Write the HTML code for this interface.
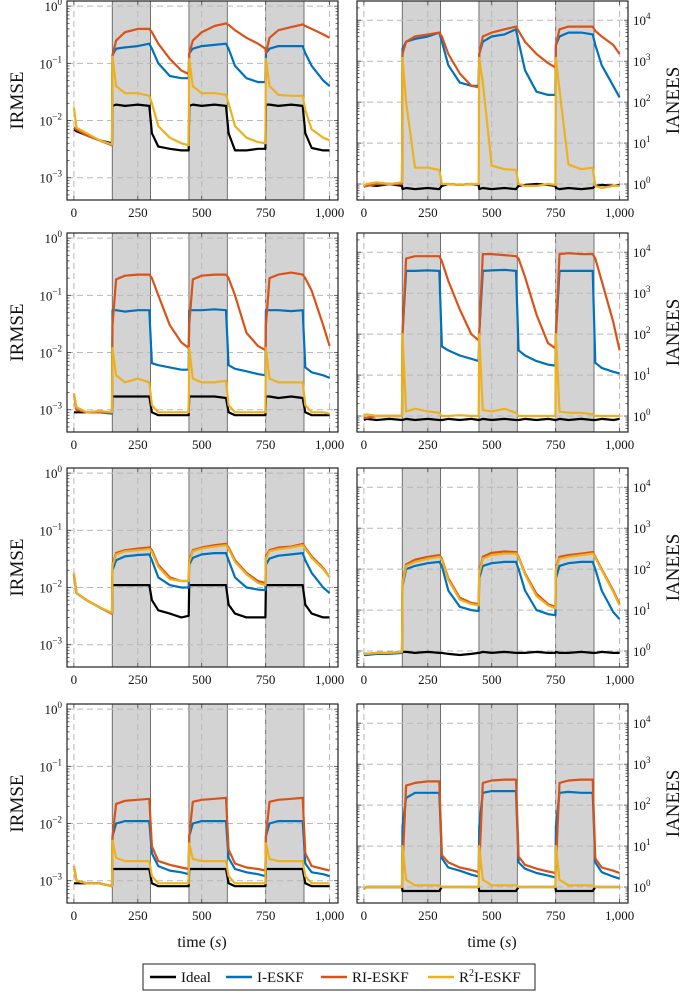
<!DOCTYPE html>
<html><head><meta charset="utf-8">
<style>
html,body{margin:0;padding:0;background:#fff;}
svg{display:block;font-family:"Liberation Serif",serif;}
</style></head>
<body>
<svg id="chart" width="685" height="995" viewBox="0 0 685 995" xmlns="http://www.w3.org/2000/svg"></svg>
<script>
// time grid
const T=[0,10,50,100,149,151,165,200,250,295,305,330,375,420,449,451,465,500,550,595,605,630,675,720,749,751,765,800,850,895,905,930,975,1000];
const bandStarts=[150,450,750];
const bandEnds=[300,600,900];
const xTicks=[0,250,500,750,1000];
const xTickLabels=["0","250","500","750","1,000"];
const leftDecades=[-3,-2,-1,0];
const rightDecades=[0,1,2,3,4];
const seriesNames=["Ideal","I-ESKF","RI-ESKF","R2I-ESKF"];

// Panel 1 (IRMSE)
const p1Ideal=[0.007,0.0065,0.0055,0.0045,0.004,0.018,0.019,0.018,0.019,0.018,0.006,0.0035,0.0032,0.003,0.003,0.018,0.019,0.018,0.019,0.018,0.006,0.003,0.003,0.0032,0.0032,0.019,0.019,0.018,0.019,0.018,0.006,0.0033,0.003,0.003];
const p1Blue=[0.0075,0.007,0.0055,0.0045,0.0037,0.14,0.18,0.19,0.2,0.22,0.18,0.1,0.06,0.055,0.055,0.15,0.18,0.2,0.21,0.22,0.18,0.09,0.055,0.047,0.047,0.15,0.18,0.2,0.2,0.2,0.15,0.09,0.05,0.04];
const p1Red=[0.0075,0.007,0.0055,0.0045,0.0037,0.14,0.25,0.35,0.4,0.4,0.35,0.22,0.12,0.075,0.065,0.15,0.25,0.35,0.45,0.5,0.47,0.38,0.28,0.22,0.18,0.15,0.28,0.38,0.43,0.48,0.45,0.4,0.32,0.28];
const p1Yellow=[0.017,0.0075,0.006,0.0045,0.0038,0.13,0.04,0.03,0.03,0.027,0.02,0.008,0.005,0.004,0.0037,0.12,0.04,0.03,0.03,0.028,0.02,0.008,0.005,0.0042,0.004,0.12,0.04,0.028,0.027,0.027,0.015,0.007,0.005,0.0045];
// Panel 2 (IANEES)
const p2Ideal=[0.9,0.95,0.9,1,0.9,0.75,0.8,0.75,0.8,0.75,0.9,1,0.95,1,0.95,0.75,0.8,0.75,0.8,0.75,0.9,0.95,1,0.95,0.9,0.8,0.75,0.8,0.75,0.8,0.9,0.95,0.9,0.95];
const p2Blue=[0.85,0.9,1,1,1,2000,3000,3500,4000,5000,3000,800,300,250,250,1500,3000,4000,4500,6000,3000,600,180,150,150,2500,4000,5000,5000,4500,2500,800,250,130];
const p2Red=[0.85,0.9,1,1,1,1500,3000,4000,4500,5000,4000,1500,500,250,230,1500,4000,5000,6000,7000,5500,3000,1500,900,700,2500,6000,7000,7000,7000,5500,4000,2500,1500];
const p2Yellow=[0.9,1,1.1,1,1.1,1200,100,2.5,2.5,2.2,1,1,0.95,1,1,1200,300,2.8,2.3,2.2,1,0.9,0.9,1,0.95,1200,200,3,2.3,2.5,0.9,0.8,0.9,0.9];
// Panel 3
const p3Ideal=[0.0009,0.0009,0.0009,0.0009,0.0009,0.0017,0.0017,0.0017,0.0017,0.0017,0.0009,0.0008,0.0008,0.0008,0.0008,0.0017,0.0017,0.0017,0.0017,0.0016,0.0009,0.0008,0.0008,0.0008,0.0008,0.0017,0.0017,0.0016,0.0017,0.0016,0.0009,0.0008,0.0008,0.0008];
const p3Blue=[0.0019,0.001,0.0009,0.0009,0.00085,0.055,0.055,0.052,0.055,0.055,0.0065,0.006,0.0055,0.005,0.005,0.055,0.055,0.055,0.057,0.055,0.006,0.0052,0.0047,0.0042,0.004,0.055,0.055,0.055,0.053,0.055,0.0055,0.0045,0.004,0.0036];
const p3Red=[0.0019,0.001,0.0009,0.0009,0.0009,0.03,0.19,0.22,0.23,0.23,0.2,0.1,0.03,0.015,0.012,0.03,0.19,0.22,0.23,0.23,0.2,0.1,0.022,0.013,0.011,0.03,0.2,0.23,0.25,0.23,0.2,0.12,0.03,0.013];
const p3Yellow=[0.0019,0.0011,0.0009,0.00095,0.0009,0.012,0.004,0.003,0.0035,0.003,0.0012,0.0009,0.0009,0.0009,0.0009,0.012,0.0035,0.003,0.003,0.0032,0.0012,0.0009,0.0009,0.0009,0.0009,0.012,0.0035,0.003,0.003,0.003,0.0012,0.0009,0.0009,0.00085];
// Panel 4
const p4Ideal=[0.8,0.85,0.8,0.85,0.8,0.8,0.85,0.8,0.85,0.8,0.8,0.85,0.8,0.85,0.8,0.8,0.85,0.8,0.85,0.8,0.8,0.85,0.8,0.85,0.8,0.8,0.85,0.8,0.85,0.8,0.8,0.85,0.8,0.85];
const p4Blue=[0.9,0.9,1,1,1,100,3500,3500,3600,3500,50,40,30,25,22,100,3500,3600,3700,3500,40,30,22,18,17,100,3500,3500,3500,3500,20,15,12,11];
const p4Red=[0.9,0.9,1,1,1,100,7000,8000,8000,8000,6000,2000,400,100,70,100,9000,9000,8500,8000,7000,2500,300,60,45,100,9000,9500,9000,9000,7000,2000,200,40];
const p4Yellow=[1,1.1,1,1,1,100,1.3,1.5,1.3,1.2,1,1,1.05,1,1,100,1.4,1.3,1.5,1.2,1,1,1,1,1,100,1.3,1.2,1.2,1.1,1,1,1,1];
// Panel 5
const p5Ideal=[0.017,0.008,0.006,0.0045,0.0035,0.011,0.011,0.011,0.011,0.011,0.006,0.004,0.0035,0.003,0.0032,0.011,0.011,0.011,0.011,0.011,0.005,0.0035,0.003,0.003,0.003,0.011,0.011,0.011,0.011,0.011,0.005,0.0035,0.003,0.003];
const p5Blue=[0.017,0.008,0.006,0.0045,0.0035,0.02,0.03,0.035,0.037,0.038,0.03,0.015,0.011,0.01,0.01,0.025,0.033,0.038,0.04,0.04,0.03,0.015,0.01,0.0092,0.009,0.025,0.032,0.036,0.038,0.04,0.03,0.018,0.01,0.008];
const p5Red=[0.017,0.008,0.006,0.0045,0.0035,0.025,0.04,0.045,0.048,0.05,0.045,0.025,0.015,0.013,0.013,0.03,0.045,0.05,0.055,0.058,0.05,0.03,0.018,0.013,0.012,0.035,0.045,0.05,0.052,0.058,0.05,0.035,0.022,0.015];
const p5Yellow=[0.018,0.008,0.006,0.0045,0.0036,0.024,0.038,0.043,0.045,0.047,0.042,0.023,0.014,0.013,0.013,0.028,0.043,0.048,0.052,0.055,0.047,0.028,0.017,0.012,0.011,0.032,0.043,0.047,0.05,0.055,0.048,0.033,0.021,0.015];
// Panel 6
const p6Ideal=[0.85,0.85,0.85,0.9,0.9,0.95,0.95,0.9,0.95,0.9,0.9,0.85,0.8,0.85,0.9,0.9,0.95,0.9,0.95,0.9,0.9,0.9,0.95,0.9,0.9,0.95,0.9,0.9,0.95,0.9,0.9,0.95,0.9,0.9];
const p6Blue=[0.8,0.8,0.85,0.85,0.9,40,100,120,140,150,120,30,12,10,9.5,60,120,140,150,150,100,30,10,8,7.5,60,120,140,150,150,100,30,9,6];
const p6Red=[0.85,0.85,0.9,0.9,0.95,50,130,170,200,220,180,60,20,15,14,80,200,250,270,260,200,80,25,14,12,100,200,220,240,260,200,100,30,14];
const p6Yellow=[0.85,0.85,0.9,0.9,0.95,45,120,150,180,200,170,55,18,14,13,75,180,220,240,240,190,75,22,13,11,95,180,200,220,240,190,95,28,13];
// Panel 7
const p7Ideal=[0.0009,0.0009,0.0009,0.0009,0.0008,0.0016,0.0016,0.0016,0.0016,0.0016,0.0009,0.0008,0.0008,0.0008,0.0008,0.0016,0.0016,0.0016,0.0016,0.0016,0.0009,0.0008,0.0008,0.0008,0.0008,0.0016,0.0016,0.0016,0.0016,0.0016,0.0009,0.0008,0.0008,0.0008];
const p7Blue=[0.0018,0.001,0.0009,0.0009,0.0008,0.006,0.01,0.011,0.011,0.011,0.003,0.0018,0.0015,0.0014,0.0013,0.006,0.01,0.011,0.011,0.011,0.0025,0.0016,0.0014,0.0013,0.0012,0.006,0.01,0.011,0.011,0.011,0.002,0.0014,0.0013,0.0012];
const p7Red=[0.0018,0.001,0.0009,0.0009,0.0008,0.006,0.022,0.025,0.026,0.027,0.004,0.0022,0.0019,0.0017,0.0016,0.006,0.024,0.026,0.027,0.028,0.0035,0.002,0.0017,0.0016,0.0015,0.006,0.024,0.026,0.027,0.028,0.003,0.0018,0.0016,0.0015];
const p7Yellow=[0.0018,0.001,0.0009,0.0009,0.0008,0.005,0.0025,0.0022,0.0022,0.0022,0.0012,0.0009,0.0009,0.0009,0.0009,0.0045,0.0024,0.0022,0.0022,0.0022,0.0012,0.0009,0.0009,0.0009,0.0009,0.0045,0.0024,0.0022,0.0022,0.0022,0.0012,0.0009,0.0009,0.0009];
// Panel 8
const p8Ideal=[0.9,1,1,1,1,0.8,0.8,0.8,0.8,0.8,1,1,1,1,1,0.8,0.8,0.8,0.8,0.8,1,1,1,1,1,0.8,0.8,0.8,0.8,0.8,1,1,1,1];
const p8Blue=[0.9,1,1,1,1,30,150,200,200,200,5,3,2.5,2,1.8,30,200,220,220,220,4,2.8,2.2,1.9,1.7,30,200,210,200,200,4,2.3,1.8,1.6];
const p8Red=[0.9,1,1,1,1,3,300,350,380,380,6,4,3,2.6,2.3,3,350,400,420,420,5.5,3.5,2.8,2.4,2.2,3,350,400,420,420,5,3,2.5,2.2];
const p8Yellow=[0.9,1,1,1,1,10,1.5,1.1,1.1,1.1,1,1,1,1,1,10,1.5,1.1,1.1,1.1,1,1,1,1,1,10,1.5,1.1,1.1,1.1,1,1,1,1];

const NS="http://www.w3.org/2000/svg";
const svg=document.getElementById('chart');
function mk(tag,attrs,parent){const e=document.createElementNS(NS,tag);for(const k in attrs)e.setAttribute(k,attrs[k]);(parent||svg).appendChild(e);return e;}

const colors=["#000000","#0072BD","#D95319","#EDB120"];
const rowTops=[1,233,468,704];
const H=199;
const cols=[{x0:67,x1:338,side:'left',dom:[-3.39,0.09]},{x0:357,x1:628,side:'right',dom:[-0.39,4.47]}];
const panels=[
 {r:0,c:0,s:[p1Ideal,p1Blue,p1Red,p1Yellow]},
 {r:0,c:1,s:[p2Ideal,p2Blue,p2Red,p2Yellow]},
 {r:1,c:0,s:[p3Ideal,p3Blue,p3Red,p3Yellow]},
 {r:1,c:1,s:[p4Ideal,p4Blue,p4Red,p4Yellow]},
 {r:2,c:0,s:[p5Ideal,p5Blue,p5Red,p5Yellow]},
 {r:2,c:1,s:[p6Ideal,p6Blue,p6Red,p6Yellow]},
 {r:3,c:0,s:[p7Ideal,p7Blue,p7Red,p7Yellow]},
 {r:3,c:1,s:[p8Ideal,p8Blue,p8Red,p8Yellow]}
];

panels.forEach((p,pi)=>{
 const col=cols[p.c];const top=rowTops[p.r];const bot=top+H;
 const xs=t=>col.x0+(t+27)/1060*(col.x1-col.x0);
 const ys=v=>bot-(Math.log10(v)-col.dom[0])/(col.dom[1]-col.dom[0])*H;
 const g=mk('g',{});
 
 
 const cp=mk('clipPath',{id:'cp'+pi},g);
 mk('rect',{x:col.x0,y:top,width:col.x1-col.x0,height:H},cp);
 // bands
 bandStarts.forEach((b,i)=>{
  const r=mk('rect',{x:xs(b),y:top,width:xs(bandEnds[i])-xs(b),height:H,fill:'#d3d3d3',stroke:'#555','stroke-width':0.8},g);
  
  
 });
 // grid
 xTicks.forEach(t=>{
  const l=mk('line',{x1:xs(t),x2:xs(t),y1:top,y2:bot,stroke:'#b8b8b8','stroke-width':1,'stroke-dasharray':'6 4'},g);
  
  
 });
 const decs=col.side==='left'?leftDecades:rightDecades;
 decs.forEach(d=>{
  const y=ys(Math.pow(10,d));
  const l=mk('line',{x1:col.x0,x2:col.x1,y1:y,y2:y,stroke:'#b8b8b8','stroke-width':1,'stroke-dasharray':'6 4'},g);
  
  
 });
 // series
 const sg=mk('g',{'clip-path':'url(#cp'+pi+')'},g);
 p.s.forEach((arr,si)=>{
  const d=arr.map((v,i)=>(i?'L':'M')+xs(T[i]).toFixed(1)+' '+ys(v).toFixed(1)).join(' ');
  const path=mk('path',{d:d,fill:'none',stroke:colors[si],'stroke-width':2.2,'stroke-linejoin':'round'},sg);
  
  
 });
 // ticks
 const tk=mk('g',{stroke:'#444','stroke-width':0.8},g);
 for(let d=Math.floor(col.dom[0]);d<=Math.ceil(col.dom[1]);d++){
  for(let k=1;k<=9;k++){
   const lv=d+Math.log10(k);
   if(lv<col.dom[0]||lv>col.dom[1])continue;
   const y=ys(Math.pow(10,lv));const len=k===1?4:2.5;
   mk('line',{x1:col.x0,x2:col.x0+len,y1:y,y2:y},tk);
   mk('line',{x1:col.x1-len,x2:col.x1,y1:y,y2:y},tk);
  }
 }
 xTicks.forEach(t=>{
  mk('line',{x1:xs(t),x2:xs(t),y1:bot,y2:bot-4},tk);
  mk('line',{x1:xs(t),x2:xs(t),y1:top,y2:top+4},tk);
 });
 // frame
 const fr=mk('rect',{x:col.x0,y:top,width:col.x1-col.x0,height:H,fill:'none',stroke:'#222','stroke-width':1.2},g);
 
 
 // x tick labels
 xTicks.forEach((t,i)=>{
  const tx=mk('text',{x:xs(t),y:bot+17,'font-size':13,'text-anchor':'middle',fill:'#111'},g);
  tx.textContent=xTickLabels[i];
  
  
 });
 // y tick labels
 decs.forEach(d=>{
  const y=ys(Math.pow(10,d));
  const tx=mk('text',{x:col.side==='left'?col.x0-5:col.x1+5,y:y+5,'font-size':13,'text-anchor':col.side==='left'?'end':'start',fill:'#111'},g);
  
  
  const a=mk('tspan',{},tx);a.textContent='10';
  const b=mk('tspan',{dy:-6,'font-size':9},tx);b.textContent=d<0?'\u2212'+(-d):String(d);
 });
 // axis title
 const ty=top+H/2;
 const at=mk('text',{x:0,y:0,'font-size':19,'text-anchor':'middle',fill:'#111',
   transform:col.side==='left'?'translate(23,'+ty+') rotate(-90)':'translate(679,'+ty+') rotate(-90)'},g);
 at.textContent=col.side==='left'?'IRMSE':'IANEES';
 
 
});

// x axis titles
[[202,'time-axis-title-left'],[492,'time-axis-title-right']].forEach(([cx,nm])=>{
 const t=mk('text',{x:cx,y:947,'font-size':16,'text-anchor':'middle',fill:'#111'});
 
 
 const a=mk('tspan',{},t);a.textContent='time (';
 const b=mk('tspan',{'font-style':'italic'},t);b.textContent='s';
 const c=mk('tspan',{},t);c.textContent=')';
});

// legend
const lg=mk('g',{});


mk('rect',{x:143,y:964,width:392,height:26,fill:'#fff',stroke:'#222','stroke-width':1},lg);
const legX=[150,226,321,428];
seriesNames.forEach((n,i)=>{
 const e=mk('g',{},lg);
 
 
 mk('line',{x1:legX[i],x2:legX[i]+26,y1:977,y2:977,stroke:colors[i],'stroke-width':2.5},e);
 const t=mk('text',{x:legX[i]+31,y:982,'font-size':15,fill:'#111'},e);
 if(i===3){const a=mk('tspan',{},t);a.textContent='R';const b=mk('tspan',{dy:-6,'font-size':10},t);b.textContent='2';const c=mk('tspan',{dy:6},t);c.textContent='I-ESKF';}
 else t.textContent=n;
});
</script>
</body></html>
